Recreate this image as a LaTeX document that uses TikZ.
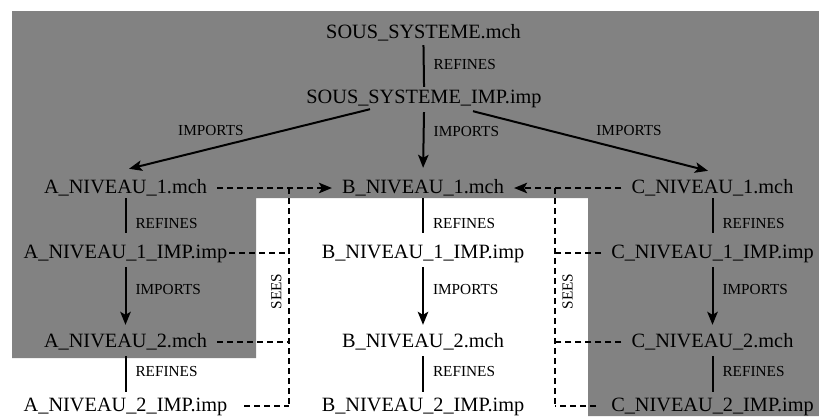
\documentclass[tikz,border=0pt]{standalone}
\usepackage{fontspec}
\setmainfont{Liberation Serif}
\usetikzlibrary{arrows.meta,calc}
\definecolor{bg}{RGB}{130,130,130}
\tikzset{
  mod/.style={font=\fontsize{20.3}{24}\selectfont, text height=15pt, text depth=5pt, inner ysep=4pt, inner xsep=10pt, anchor=base},
  lbl/.style={font=\fontsize{15.3}{18}\selectfont, inner sep=0pt},
  seeslbl/.style={lbl, rotate=90, inner ysep=6.5pt},
  solidline/.style={line width=2pt},
  arr/.style={line width=2pt, -{Stealth[length=13pt,width=10.5pt,inset=3pt]}},
  sees/.style={line width=2pt, dash pattern=on 6pt off 4pt},
  seesarr/.style={sees, -{Stealth[length=13pt,width=10.5pt,inset=3pt]}},
  ref1/.style={shorten <=-4pt, shorten >=6pt}
}
\begin{document}
\begin{tikzpicture}[x=1pt,y=-1pt]
\useasboundingbox (0,0) rectangle (819,416);
\fill[bg] (12,11) -- (819,11) -- (819,416) -- (588,416) -- (588,198) -- (256,198) -- (256,358) -- (12,358) -- cycle;

\node[mod] (SS) at (423.5,38) {SOUS\_SYSTEME.mch};
\node[mod] (SSI) at (424,103) {SOUS\_SYSTEME\_IMP.imp};

\node[mod] (A1) at (125.5,193) {A\_NIVEAU\_1.mch};
\node[mod] (B1) at (423,193) {B\_NIVEAU\_1.mch};
\node[mod] (C1) at (712.5,193) {C\_NIVEAU\_1.mch};

\node[mod] (A1i) at (125.5,258) {A\_NIVEAU\_1\_IMP.imp};
\node[mod] (B1i) at (423,258) {B\_NIVEAU\_1\_IMP.imp};
\node[mod] (C1i) at (712.5,258) {C\_NIVEAU\_1\_IMP.imp};

\node[mod] (A2) at (125.5,347) {A\_NIVEAU\_2.mch};
\node[mod] (B2) at (423,347) {B\_NIVEAU\_2.mch};
\node[mod] (C2) at (712.5,347) {C\_NIVEAU\_2.mch};

\node[mod] (A2i) at (125.5,411) {A\_NIVEAU\_2\_IMP.imp};
\node[mod] (B2i) at (423,411) {B\_NIVEAU\_2\_IMP.imp};
\node[mod] (C2i) at (712.5,411) {C\_NIVEAU\_2\_IMP.imp};

% top
\draw[solidline, shorten <=-2pt, shorten >=-3pt] (SS.south) -- node[lbl, pos=0.46, anchor=west, xshift=9pt] {REFINES} (SSI.north);
\draw[arr, shorten >=6pt] (SSI.south) -- node[lbl, pos=0.32, anchor=west, xshift=9pt] {IMPORTS} (B1.north);
\draw[arr] ($(SSI.south)+(-54,-3)$) -- node[lbl, pos=0.66, anchor=south, yshift=12pt] {IMPORTS} ($(A1.north)+(3.5,-5)$);
\draw[arr] ($(SSI.south)+(49,-1)$) -- node[lbl, pos=0.664, anchor=south, yshift=14pt] {IMPORTS} ($(C1.north)+(-4.5,-3)$);

% columns
\foreach \c in {A,B,C}{
  \draw[solidline, ref1] (\c1.south) -- node[lbl, pos=0.57, anchor=west, xshift=9pt] {REFINES} (\c1i.north);
  \draw[arr, shorten >=3pt] (\c1i.south) -- node[lbl, pos=0.36, anchor=west, xshift=9pt] {IMPORTS} (\c2.north);
  \draw[solidline] (\c2.south) -- node[lbl, pos=0.43, anchor=west, xshift=9pt] {REFINES} (\c2i.north);
}

% sees
\coordinate (jL) at (289,188);
\coordinate (jLb) at (289,406);
\coordinate (jR) at (555,188);
\coordinate (jRb) at (555,406);

\draw[seesarr] (A1.east) -- (B1.west);
\draw[seesarr] (C1.west) -- (B1.east);

\draw[sees] (jL) -- node[seeslbl, pos=0.475, anchor=south] {SEES} (jLb);
\draw[sees] (jR) -- node[seeslbl, pos=0.475, anchor=north] {SEES} (jRb);

\draw[sees, shorten <=-8pt] (A1i.east) -- (A1i.east -| jL);
\draw[sees] (A2.east) -- (A2.east -| jL);
\draw[sees, shorten <=7pt] (A2i.east) -- (A2i.east -| jL);

\draw[sees] (C1i.west) -- (C1i.west -| jR);
\draw[sees] (C2.west) -- (C2.west -| jR);
\draw[sees, shorten <=5pt] (C2i.west) -- (C2i.west -| jR);
\end{tikzpicture}
\end{document}
